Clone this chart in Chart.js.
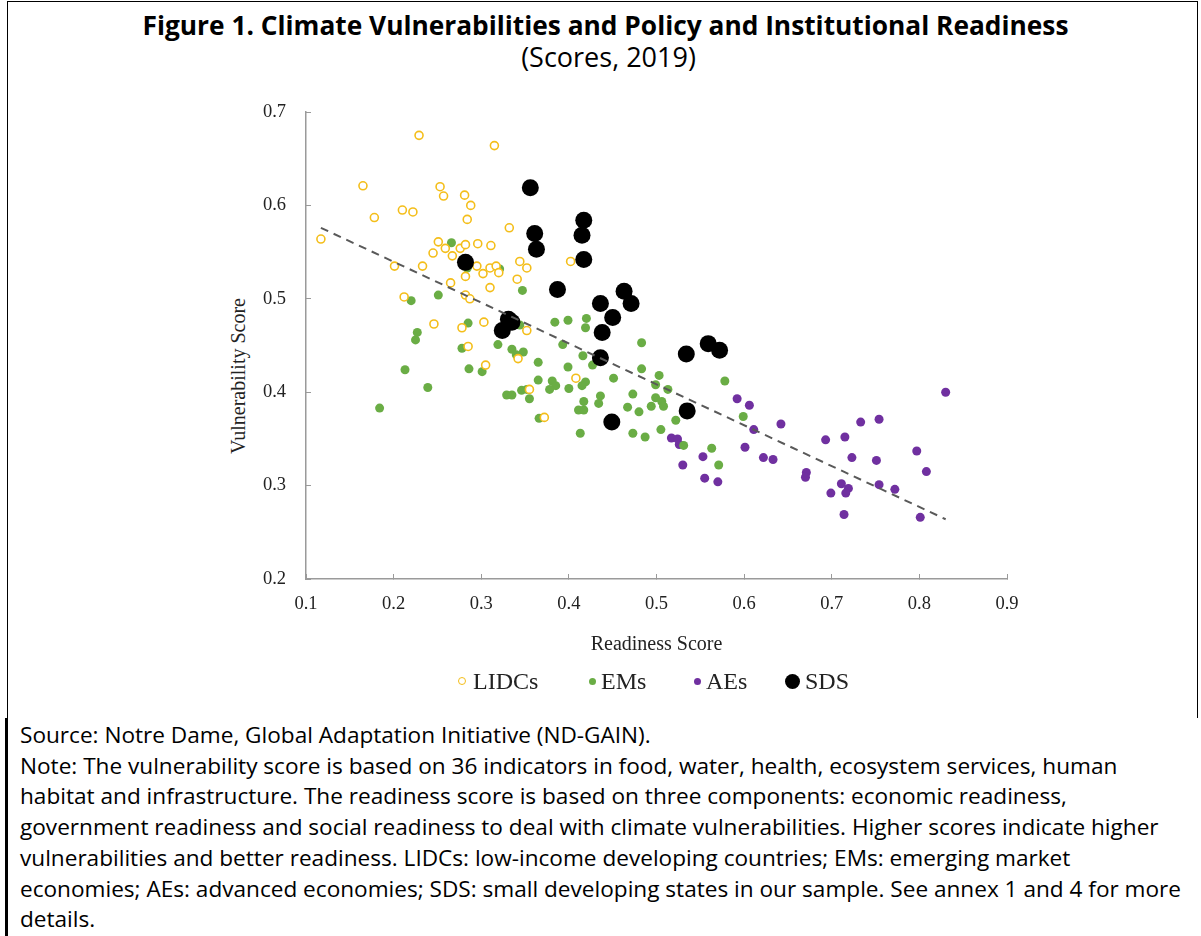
<!DOCTYPE html>
<html>
<head>
<meta charset="utf-8">
<script src="https://cdn.jsdelivr.net/npm/chart.js@4.4.1/dist/chart.umd.min.js"></script>
<style>
html,body{margin:0;padding:0;background:#fff;}
body{width:1201px;height:936px;position:relative;overflow:hidden;}
#frame{position:absolute;left:7px;top:1px;width:1191px;height:717px;border:1px solid #000;border-bottom:none;box-sizing:border-box;}
#leftline{position:absolute;left:5px;top:718px;width:3px;height:218px;background:#000;}
#title{position:absolute;left:5px;top:7px;width:1201px;text-align:center;font-family:"Open Sans";font-weight:bold;font-size:26.3px;line-height:36px;color:#000;white-space:nowrap;}
#subtitle{position:absolute;left:8px;top:39px;width:1201px;text-align:center;font-family:"Open Sans";font-size:27px;line-height:36px;color:#000;}
#ytitle{position:absolute;left:238px;top:376px;transform:translate(-50%,-50%) rotate(-90deg);font-family:"Liberation Serif";font-size:20px;color:#222;white-space:nowrap;}
#chartbox{position:absolute;left:0;top:90px;width:1201px;height:581px;}
.item{position:absolute;top:667px;height:28px;line-height:28px;font-family:"Liberation Serif";font-size:24px;color:#222;white-space:nowrap;}
.mk{position:absolute;border-radius:50%;box-sizing:border-box;}
#notes{position:absolute;left:20px;top:720px;font-family:"Open Sans";font-size:22.6px;line-height:30.7px;white-space:nowrap;color:#000;}
</style>
</head>
<body>
<div id="frame"></div>
<div id="leftline"></div>
<div id="title">Figure 1. Climate Vulnerabilities and Policy and Institutional Readiness</div>
<div id="subtitle">(Scores, 2019)</div>
<div id="ytitle">Vulnerability Score</div>
<div id="chartbox"><canvas id="c" width="1201" height="581"></canvas></div>
<span class="mk" style="left:458px;top:677px;width:8px;height:8px;border:1.5px solid #F4BE1A;background:#fff"></span>
<div class="item" style="left:473px">LIDCs</div>
<span class="mk" style="left:588.5px;top:677.5px;width:7px;height:7px;background:#6AAD45"></span>
<div class="item" style="left:601px">EMs</div>
<span class="mk" style="left:693.5px;top:677.5px;width:7px;height:7px;background:#7030A0"></span>
<div class="item" style="left:706px">AEs</div>
<span class="mk" style="left:784.5px;top:673.5px;width:15px;height:15px;background:#000"></span>
<div class="item" style="left:805px">SDS</div>
<div id="notes">Source: Notre Dame, Global Adaptation Initiative (ND-GAIN).<br>Note: The vulnerability score is based on 36 indicators in food, water, health, ecosystem services, human<br>habitat and infrastructure. The readiness score is based on three components: economic readiness,<br>government readiness and social readiness to deal with climate vulnerabilities. Higher scores indicate higher<br>vulnerabilities and better readiness. LIDCs: low-income developing countries; EMs: emerging market<br>economies; AEs: advanced economies; SDS: small developing states in our sample. See annex 1 and 4 for more<br>details.</div>
<script>
// ---- Data ----
const xTicks = [0.1, 0.2, 0.3, 0.4, 0.5, 0.6, 0.7, 0.8, 0.9];
const yTicks = [0.2, 0.3, 0.4, 0.5, 0.6, 0.7];

const lidcX = [0.229,0.315,0.165,0.253,0.257,0.281,0.288,0.210,0.222,0.178,0.284,0.332,0.117,0.251,0.259,0.276,0.282,0.296,0.311,0.245,0.267,0.201,0.233,0.295,0.302,0.310,0.317,0.320,0.344,0.352,0.282,0.341,0.265,0.310,0.212,0.282,0.287,0.246,0.278,0.303,0.352,0.285,0.342,0.305,0.355,0.372,0.402,0.408];
const lidcY = [0.675,0.664,0.621,0.620,0.610,0.611,0.600,0.595,0.593,0.587,0.585,0.576,0.564,0.561,0.554,0.554,0.558,0.559,0.557,0.549,0.546,0.535,0.535,0.535,0.527,0.533,0.535,0.528,0.540,0.533,0.524,0.521,0.517,0.512,0.502,0.504,0.500,0.473,0.469,0.475,0.466,0.449,0.436,0.429,0.403,0.373,0.540,0.415];

const emX = [0.266,0.284,0.321,0.347,0.251,0.220,0.285,0.344,0.384,0.227,0.225,0.278,0.319,0.335,0.340,0.348,0.365,0.213,0.286,0.301,0.365,0.381,0.385,0.378,0.239,0.329,0.335,0.346,0.352,0.355,0.184,0.366,0.399,0.420,0.419,0.393,0.483,0.416,0.427,0.399,0.483,0.503,0.451,0.419,0.415,0.400,0.499,0.513,0.473,0.499,0.506,0.508,0.436,0.434,0.417,0.467,0.480,0.494,0.411,0.417,0.522,0.473,0.487,0.505,0.413,0.578,0.599,0.531,0.563,0.571];
const emY = [0.560,0.533,0.532,0.509,0.504,0.498,0.474,0.472,0.475,0.464,0.456,0.447,0.451,0.446,0.440,0.443,0.432,0.424,0.425,0.422,0.413,0.412,0.407,0.403,0.405,0.397,0.397,0.402,0.403,0.393,0.383,0.372,0.477,0.479,0.469,0.451,0.453,0.439,0.429,0.427,0.425,0.418,0.415,0.411,0.407,0.404,0.408,0.403,0.398,0.394,0.390,0.385,0.396,0.388,0.390,0.384,0.379,0.385,0.381,0.381,0.370,0.356,0.352,0.360,0.356,0.412,0.374,0.343,0.340,0.322];

const aeX = [0.592,0.517,0.524,0.606,0.611,0.642,0.601,0.622,0.633,0.526,0.553,0.530,0.555,0.570,0.693,0.715,0.733,0.754,0.830,0.723,0.751,0.797,0.808,0.671,0.670,0.711,0.719,0.716,0.699,0.754,0.772,0.714,0.801];
const aeY = [0.393,0.351,0.350,0.386,0.360,0.366,0.341,0.330,0.328,0.344,0.331,0.322,0.308,0.304,0.349,0.352,0.368,0.371,0.400,0.330,0.327,0.337,0.315,0.314,0.309,0.302,0.297,0.292,0.292,0.301,0.296,0.269,0.266];

const sdsX = [0.356,0.417,0.415,0.361,0.363,0.417,0.282,0.387,0.463,0.436,0.471,0.450,0.331,0.335,0.324,0.438,0.436,0.559,0.572,0.534,0.535,0.449];
const sdsY = [0.619,0.584,0.568,0.570,0.553,0.542,0.539,0.510,0.508,0.495,0.495,0.480,0.478,0.475,0.466,0.464,0.437,0.452,0.445,0.441,0.380,0.368];

const trendX = [0.117, 0.830];
const trendY = [0.576, 0.264];

const seriesNames = ['LIDCs', 'EMs', 'AEs', 'SDS'];

// ---- Build chart ----
const pts = (xs, ys) => xs.map((x, i) => ({x: x, y: ys[i]}));
const AXIS = '#9a9a9a';
const TXT = '#222';

new Chart(document.getElementById('c'), {
  type: 'scatter',
  data: {
    datasets: [
      {label: 'Trend', type: 'line', data: pts(trendX, trendY), borderColor: '#595959', borderWidth: 2, borderDash: [8, 6], pointRadius: 0, fill: false, order: -1},
      {label: seriesNames[3], data: pts(sdsX, sdsY), pointRadius: 8.5, pointBorderWidth: 0, backgroundColor: '#000', borderColor: '#000', order: 0},
      {label: seriesNames[0], data: pts(lidcX, lidcY), pointRadius: 4, pointBorderWidth: 1.6, backgroundColor: '#fff', borderColor: '#F4BE1A', order: 1},
      {label: seriesNames[1], data: pts(emX, emY), pointRadius: 4.5, pointBorderWidth: 0, backgroundColor: '#6AAD45', borderColor: '#6AAD45', order: 2},
      {label: seriesNames[2], data: pts(aeX, aeY), pointRadius: 4.5, pointBorderWidth: 0, backgroundColor: '#7030A0', borderColor: '#7030A0', order: 3}
    ]
  },
  options: {
    responsive: false,
    animation: false,
    devicePixelRatio: 1,
    layout: {padding: {top: 22, right: 194, bottom: 14, left: 0}},
    plugins: {legend: {display: false}, tooltip: {enabled: false}},
    scales: {
      x: {
        type: 'linear',
        min: xTicks[0], max: xTicks[xTicks.length - 1],
        afterBuildTicks: (s) => { s.ticks = xTicks.map(v => ({value: v})); },
        afterFit: (s) => { s.height = 78; s.paddingLeft = 0; s.paddingRight = 0; },
        ticks: {font: {family: 'Liberation Serif', size: 18.5}, color: TXT, padding: 19, callback: (v) => Number(v).toFixed(1)},
        grid: {drawOnChartArea: false, drawTicks: true, tickLength: -5, color: AXIS, lineWidth: 1},
        border: {display: true, color: AXIS, width: 1.5},
        title: {display: true, text: 'Readiness Score', font: {family: 'Liberation Serif', size: 20}, color: TXT, padding: {top: 18, bottom: 0}}
      },
      y: {
        type: 'linear',
        min: yTicks[0], max: yTicks[yTicks.length - 1],
        afterBuildTicks: (s) => { s.ticks = yTicks.map(v => ({value: v})); },
        afterFit: (s) => { s.width = 306; s.paddingTop = 0; s.paddingBottom = 0; },
        ticks: {font: {family: 'Liberation Serif', size: 18.5}, color: TXT, padding: 25, callback: (v) => Number(v).toFixed(1)},
        grid: {drawOnChartArea: false, drawTicks: true, tickLength: -5, color: AXIS, lineWidth: 1},
        border: {display: true, color: AXIS, width: 1.5}
      }
    }
  }
});
</script>
</body>
</html>
